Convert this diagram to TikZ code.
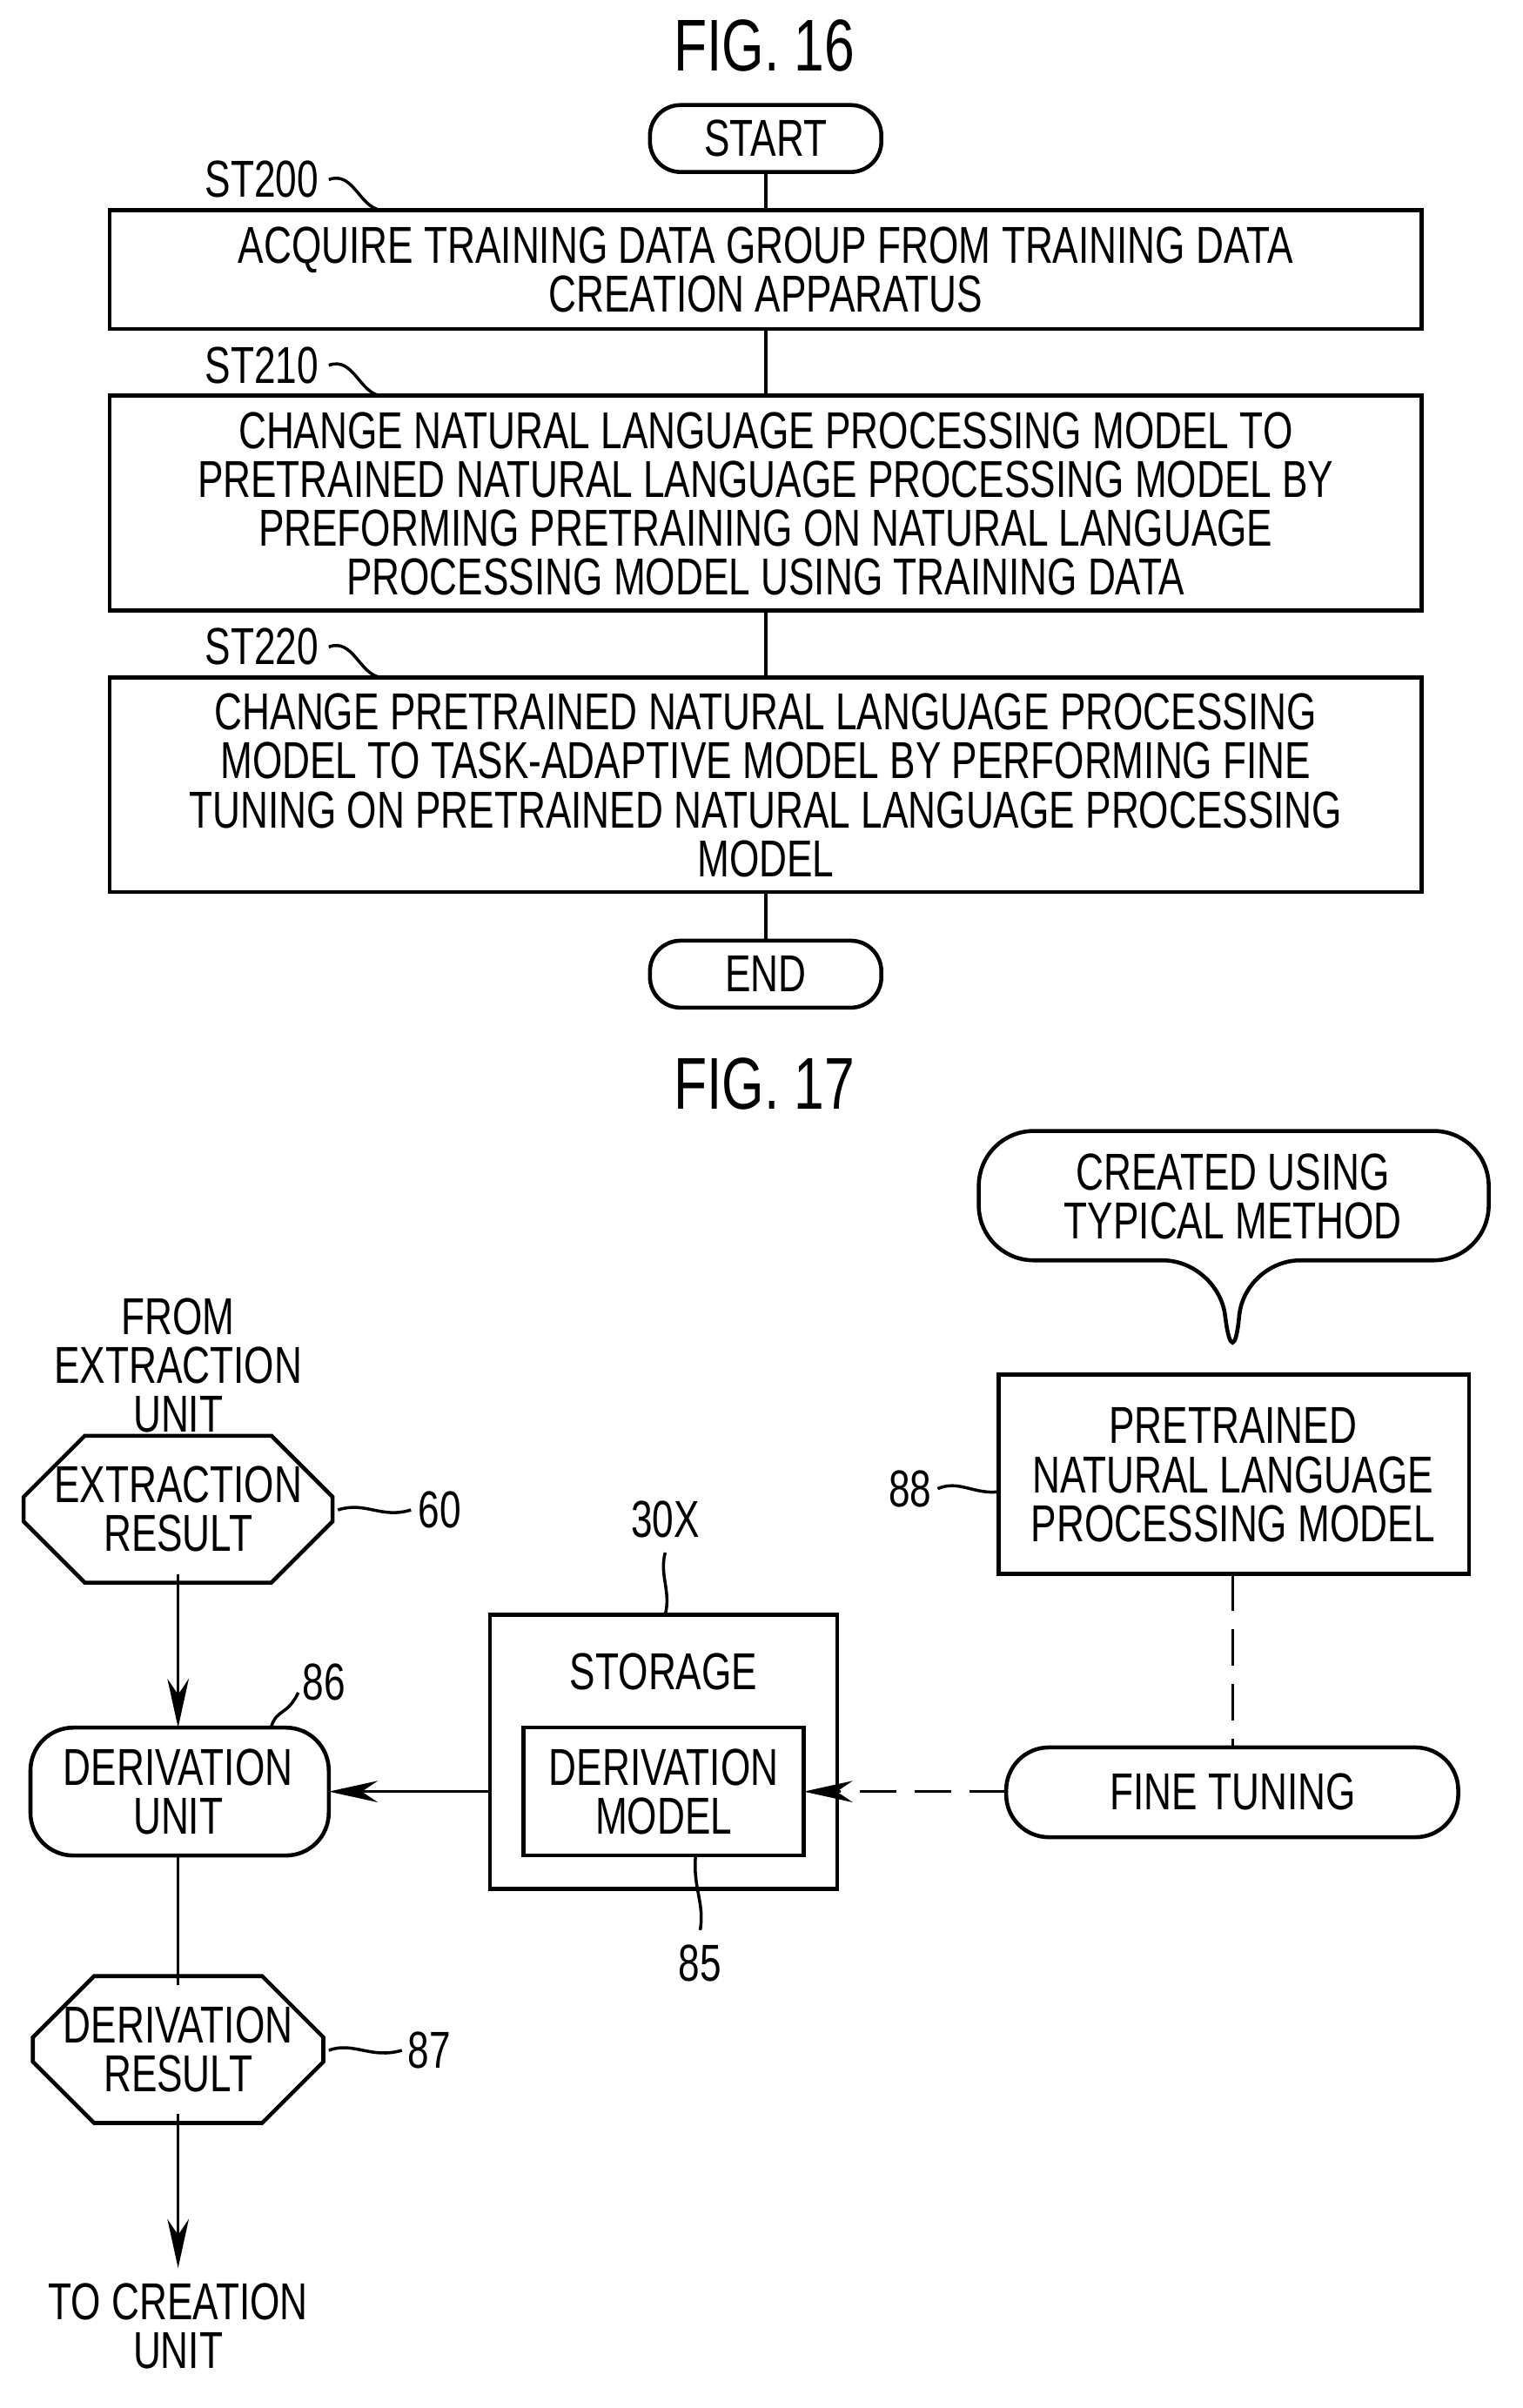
\documentclass[tikz,border=0pt]{standalone}
\usepackage{fontspec}
\setmainfont{Liberation Sans}[FakeStretch=0.74]
\usetikzlibrary{shapes.misc,arrows.meta}
\begin{document}
\begin{tikzpicture}[x=0.0175cm,y=-0.0175cm,
  every node/.style={font=\fontsize{17}{16}\selectfont, inner sep=0pt, align=center},
  box/.style={draw, line width=1.3pt},
  pill/.style={draw, line width=1.3pt, rounded corners=22\dimexpr0.0175cm\relax},
  lab/.style={font=\fontsize{17}{16}\selectfont},
  arr/.style={line width=1pt,-{Stealth[length=16pt,width=7pt]}},
  ln/.style={line width=1pt},
  title/.style={font=\fontsize{24}{24}\selectfont}]
\useasboundingbox (0,0) rectangle (1000,1582);
% FIG 16
\node[title] (t16) at (502,30) {FIG. 16};
\draw[box, rounded corners=10pt] (427,69) rectangle (579,113);
\node (start) at (503,91) {START};
\draw[box] (72,138) rectangle (934,216);
\node (b1) at (503,177) {ACQUIRE TRAINING DATA GROUP FROM TRAINING DATA\\CREATION APPARATUS};
\draw[box] (72,260) rectangle (934,401);
\node (b2) at (503,331) {CHANGE NATURAL LANGUAGE PROCESSING MODEL TO\\PRETRAINED NATURAL LANGUAGE PROCESSING MODEL BY\\PREFORMING PRETRAINING ON NATURAL LANGUAGE\\PROCESSING MODEL USING TRAINING DATA};
\draw[box] (72,445) rectangle (934,586);
\node (b3) at (503,516) {CHANGE PRETRAINED NATURAL LANGUAGE PROCESSING\\MODEL TO TASK-ADAPTIVE MODEL BY PERFORMING FINE\\TUNING ON PRETRAINED NATURAL LANGUAGE PROCESSING\\MODEL};
\draw[box, rounded corners=10pt] (427,618) rectangle (579,662);
\node (end) at (503,640) {END};
\draw[ln] (503,113)--(503,138) (503,216)--(503,260) (503,401)--(503,445) (503,586)--(503,618);
\node (s200) at (172,118) {ST200};
\node (s210) at (172,240) {ST210};
\node (s220) at (172,425) {ST220};
\foreach \y in {118,240,425}{
 \draw[ln] (216,\y) .. controls (232,\y-6) and (236,\y+18) .. (250,\y+20);}
% FIG 17
\node[title] (t17) at (502,712) {FIG. 17};
\draw[box, rounded corners=18pt] (643,743) -- (978,743) -- (978,828) -- (818,828) -- (810,903) -- (800,828) -- (643,828) -- cycle;
\node (call) at (810,786) {CREATED USING\\TYPICAL METHOD};
\draw[box] (656,903) rectangle (965,1034);
\node (m88) at (810,969) {PRETRAINED\\NATURAL LANGUAGE\\PROCESSING MODEL};
\node (l88) at (598,978) {88};
\draw[ln] (616,978) .. controls (630,972) and (640,982) .. (656,980);
\draw[box, rounded corners=14pt] (661,1148) rectangle (958,1207);
\node (ft) at (810,1177) {FINE TUNING};
\draw[ln, dashed, dash pattern=on 12pt off 6pt] (810,1034)--(810,1148);
\draw[box] (322,1061) rectangle (550,1241);
\node (st) at (436,1098) {STORAGE};
\draw[box] (344,1135) rectangle (528,1219);
\node (dm) at (436,1177) {DERIVATION\\MODEL};
\draw[arr, dash pattern=on 12pt off 6pt] (661,1177)--(528,1177);
\node (l30) at (437,998) {30X};
\draw[ln] (437,1020) .. controls (433,1035) and (441,1045) .. (437,1061);
\node (l85) at (460,1290) {85};
\draw[ln] (457,1219) .. controls (455,1240) and (463,1250) .. (460,1268);
\node (from) at (117,897) {FROM\\EXTRACTION\\UNIT};
\node[draw, line width=1.3pt, chamfered rectangle, chamfered rectangle xsep=0pt, chamfered rectangle sep=10pt, minimum width=210\dimexpr0.0175cm\relax, minimum height=85\dimexpr0.0175cm\relax] (er) at (117,991.5) {EXTRACTION\\RESULT};
\node (l60) at (289,992) {60};
\draw[ln] (222,992) .. controls (240,986) and (250,998) .. (270,992);
\draw[box, rounded corners=14pt] (20,1135) rectangle (216,1219);
\node (du) at (117,1177) {DERIVATION\\UNIT};
\node (l86) at (213,1105) {86};
\draw[ln] (178,1135) .. controls (182,1122) and (188,1128) .. (196,1112);
\draw[arr] (117,1034)--(117,1135);
\draw[arr] (322,1177)--(216,1177);
\draw[ln] (117,1219)--(117,1304);
\node[draw, line width=1.3pt, chamfered rectangle, chamfered rectangle xsep=0pt, chamfered rectangle sep=10pt, minimum width=196\dimexpr0.0175cm\relax, minimum height=85\dimexpr0.0175cm\relax] (dr) at (117,1346.5) {DERIVATION\\RESULT};
\node (l87) at (282,1347) {87};
\draw[ln] (216,1347) .. controls (232,1341) and (244,1353) .. (264,1347);
\draw[arr] (117,1389)--(117,1490);
\node (to) at (117,1528) {TO CREATION\\UNIT};
\end{tikzpicture}
\end{document}
